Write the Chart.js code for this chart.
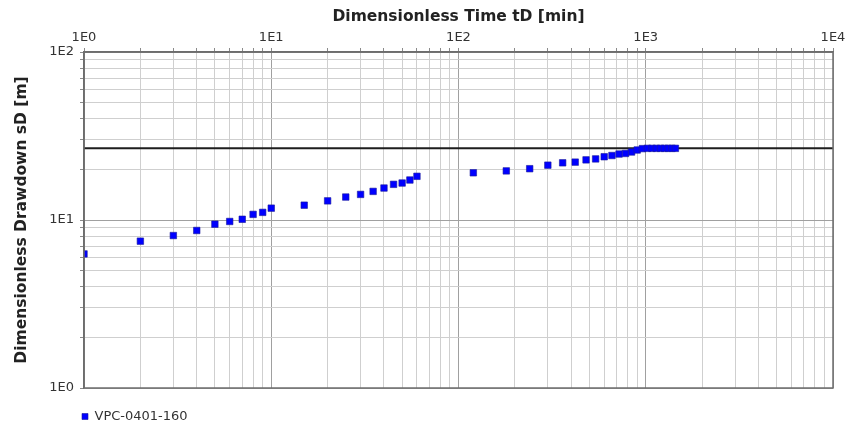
<!DOCTYPE html>
<html>
<head>
<meta charset="utf-8">
<script src="https://cdn.jsdelivr.net/npm/chart.js@4.4.1/dist/chart.umd.min.js"></script>
<style>
  html, body { margin: 0; padding: 0; background: #fff; }
  #wrap { width: 867px; height: 429px; }
</style>
</head>
<body>
<div id="wrap"><canvas id="myChart" width="867" height="429"></canvas></div>
<script>
// data
const seriesName = "VPC-0401-160";
const timeMin = [1, 2, 3, 4, 5, 6, 7, 8, 9, 10, 15, 20, 25, 30, 35, 40, 45, 50, 55, 60,
  120, 180, 240, 300, 360, 420, 480, 540, 600, 660, 720, 780, 840, 900,
  960, 1020, 1080, 1140, 1200, 1260, 1320, 1380, 1440];
const drawdown = [6.28, 7.48, 8.08, 8.66, 9.44, 9.80, 10.1, 10.8, 11.1, 11.76, 12.25, 13.0, 13.7, 14.2, 14.8, 15.5, 16.3, 16.6, 17.3, 18.2,
  19.1, 19.6, 20.2, 21.2, 21.9, 22.1, 22.8, 23.1, 23.8, 24.2, 24.7, 24.9, 25.4, 26.1,
  26.6, 26.7, 26.7, 26.7, 26.7, 26.7, 26.7, 26.7, 26.7];
const plateauTime = [1, 10000];
const plateauLevel = [26.7, 26.7];
const xTickLabels = ["1E0", "1E1", "1E2", "1E3", "1E4"];
const yTickLabels = ["1E0", "1E1", "1E2"];

Chart.defaults.font.family = "'DejaVu Sans', Verdana, sans-serif";
Chart.defaults.color = "#333";

//log grid: 1..9 for every decade
function logTicks(min, max) {
	let ticks = [];
	for (let d = min; d < max; d *= 10) {
		for (let m = 1; m < 10; m++) ticks.push({ value: m * d });
	}
	ticks.push({ value: max });
	return ticks;
}
function isDecade(v) {
	let e = Math.log10(v);
	return Math.abs(e - Math.round(e)) < 1e-9;
}

//box round the plot + legend position like the original
const frame = {
	id: "frame",
	afterLayout(chart) {
		chart.legend.left = 72;
		chart.legend.top = 400;
	},
	afterDatasetsDraw(chart) {
		const a = chart.chartArea;
		const ctx = chart.ctx;
		ctx.save();
		ctx.strokeStyle = "#6e6e6e";
		ctx.lineWidth = 1.5;
		ctx.strokeRect(a.left, a.top, a.right - a.left, a.bottom - a.top);
		ctx.restore();
	}
};

const ctx = document.getElementById("myChart").getContext("2d");
const myChart = new Chart(ctx, {
	type: "scatter",
	data: {
		datasets: [{
			label: seriesName,
			data: timeMin.map((t, i) => ({ x: t, y: drawdown[i] })),
			pointStyle: "rect",
			pointRadius: 4.6,
			pointHoverRadius: 4.6,
			backgroundColor: "#0000ff",
			borderColor: "#1a1a9a",
			borderWidth: 0.6,
			order: 0
		}, {
			label: "plateau",
			type: "line",
			data: plateauTime.map((t, i) => ({ x: t, y: plateauLevel[i] })),
			borderColor: "#1e1e1e",
			borderWidth: 2,
			pointRadius: 0,
			order: 1
		}]
	},
	options: {
		responsive: false,
		animation: false,
		layout: { padding: { left: 0, right: 34, top: 0, bottom: 8 } },
		plugins: {
			tooltip: { enabled: false },
			legend: {
				position: "bottom",
				align: "start",
				labels: {
					boxWidth: 6,
					boxHeight: 6,
					padding: 10,
					color: "#333",
					font: { size: 13 },
					filter: (item) => item.datasetIndex === 0
				}
			}
		},
		scales: {
			x: {
				type: "logarithmic",
				position: "top",
				min: 1,
				max: 10000,
				afterBuildTicks: (scale) => { scale.ticks = logTicks(1, 10000); },
				afterFit: (scale) => { scale.height = 52; },
				ticks: {
					autoSkip: false,
					maxRotation: 0,
					padding: 3,
					font: { size: 13 },
					callback: (v) => isDecade(v) ? xTickLabels[Math.round(Math.log10(v))] : ""
				},
				grid: {
					color: (c) => c.tick && isDecade(c.tick.value) ? "#a0a0a0" : "#cfcfcf",
					tickColor: "#8a8a8a",
					tickLength: 4
				},
				border: { color: "#6e6e6e", width: 1.5 },
				title: {
					display: true,
					text: "Dimensionless Time tD [min]",
					font: { size: 15.5, weight: "bold" },
					color: "#222",
					padding: { top: 8, bottom: 0 }
				}
			},
			y: {
				type: "logarithmic",
				min: 1,
				max: 100,
				afterBuildTicks: (scale) => { scale.ticks = logTicks(1, 100); },
				afterFit: (scale) => { scale.width = 84; },
				ticks: {
					autoSkip: false,
					padding: 6,
					font: { size: 13 },
					callback: (v) => isDecade(v) ? yTickLabels[Math.round(Math.log10(v))] : ""
				},
				grid: {
					color: (c) => c.tick && isDecade(c.tick.value) ? "#a0a0a0" : "#cfcfcf",
					tickColor: "#8a8a8a",
					tickLength: 4
				},
				border: { color: "#6e6e6e", width: 1.5 },
				title: {
					display: true,
					text: "Dimensionless Drawdown sD [m]",
					font: { size: 15.5, weight: "bold" },
					color: "#222",
					padding: { top: 13, bottom: 0 }
				}
			}
		}
	},
	plugins: [frame]
});
</script>
</body>
</html>
